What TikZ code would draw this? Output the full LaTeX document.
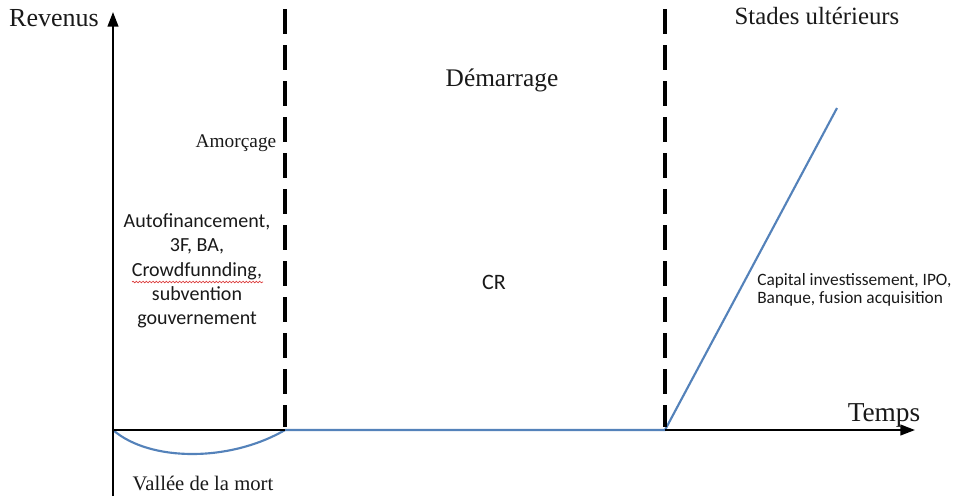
\documentclass[tikz,border=0pt]{standalone}
\usepackage{fontspec}
\setmainfont{Liberation Serif}
\newfontfamily\calibri{Carlito}
\usetikzlibrary{arrows.meta,decorations.pathmorphing}
\definecolor{curveblue}{RGB}{84,130,186}
\definecolor{spellred}{RGB}{220,60,60}
\tikzset{
  axisline/.style={line width=1.6pt},
  axis/.style={axisline,-{Triangle[length=11pt,width=8pt]}},
  phase/.style={line width=2.3pt,dash pattern=on 18.5pt off 8.5pt},
  revline/.style={curveblue,line width=1.6pt},
  lbl/.style={inner sep=0pt,text=black!90},
}
\begin{document}
\begin{tikzpicture}[x=0.75pt,y=-0.75pt]
\useasboundingbox (0,0) rectangle (960,501);
% coordinates
\coordinate (O) at (113,430);
\coordinate (ytop) at (113,12);
\coordinate (ybot) at (113,496);
\coordinate (xend) at (915,430);
\coordinate (d1top) at (285,9);
\coordinate (d1bot) at (285,427);
\coordinate (d2top) at (665,9);
\coordinate (d2bot) at (665,427);
\coordinate (A) at (285,430);
\coordinate (B) at (665,430);
\coordinate (C) at (837,108);
% revenue curve
\draw[revline] (O) .. controls (150,462) and (230,462) .. (A);
\draw[revline] (A) -- (B) -- (C);
% axes
\draw[axisline] (ybot) -- (O);
\draw[axis] (O) -- (ytop);
\draw[axisline] (O) -- (A);
\draw[axis] (B) -- (xend);
% phase separators
\draw[phase] (d1top) -- (d1bot);
\draw[phase] (d2top) -- (d2bot);
% labels
\node[lbl,font=\fontsize{19.5}{22}\selectfont] (rev) at (54,18) {Revenus};
\node[lbl,font=\fontsize{14.5}{17}\selectfont] (amo) at (236,143) {Amorçage};
\node[lbl,font=\fontsize{19}{22}\selectfont] (dem) at (502,80) {Démarrage};
\node[lbl,font=\fontsize{18.6}{22}\selectfont] (sta) at (817,16) {Stades ultérieurs};
\node[lbl,font=\fontsize{20.5}{24}\selectfont] (tmp) at (884,415) {Temps};
\node[lbl,font=\fontsize{15.5}{18}\selectfont] (val) at (203,483) {Vallée de la mort};
\node[lbl,align=center,font=\calibri\fontsize{15}{18.2}\selectfont] (auto) at (197,271)
  {Autofinancement,\\3F, BA,\\Crowdfunnding,\\subvention\\gouvernement};
\draw[spellred,line width=0.5pt,decorate,decoration={snake,amplitude=0.6pt,segment length=2.5pt}]
  (132,282) -- (263,282);
\node[lbl,font=\calibri\fontsize{16.5}{19}\selectfont] (cr) at (494,282) {CR};
\node[lbl,anchor=west,align=left,font=\calibri\fontsize{13}{13}\selectfont] (cap) at (757,290)
  {Capital investissement, IPO,\\Banque, fusion acquisition};
\end{tikzpicture}
\end{document}
